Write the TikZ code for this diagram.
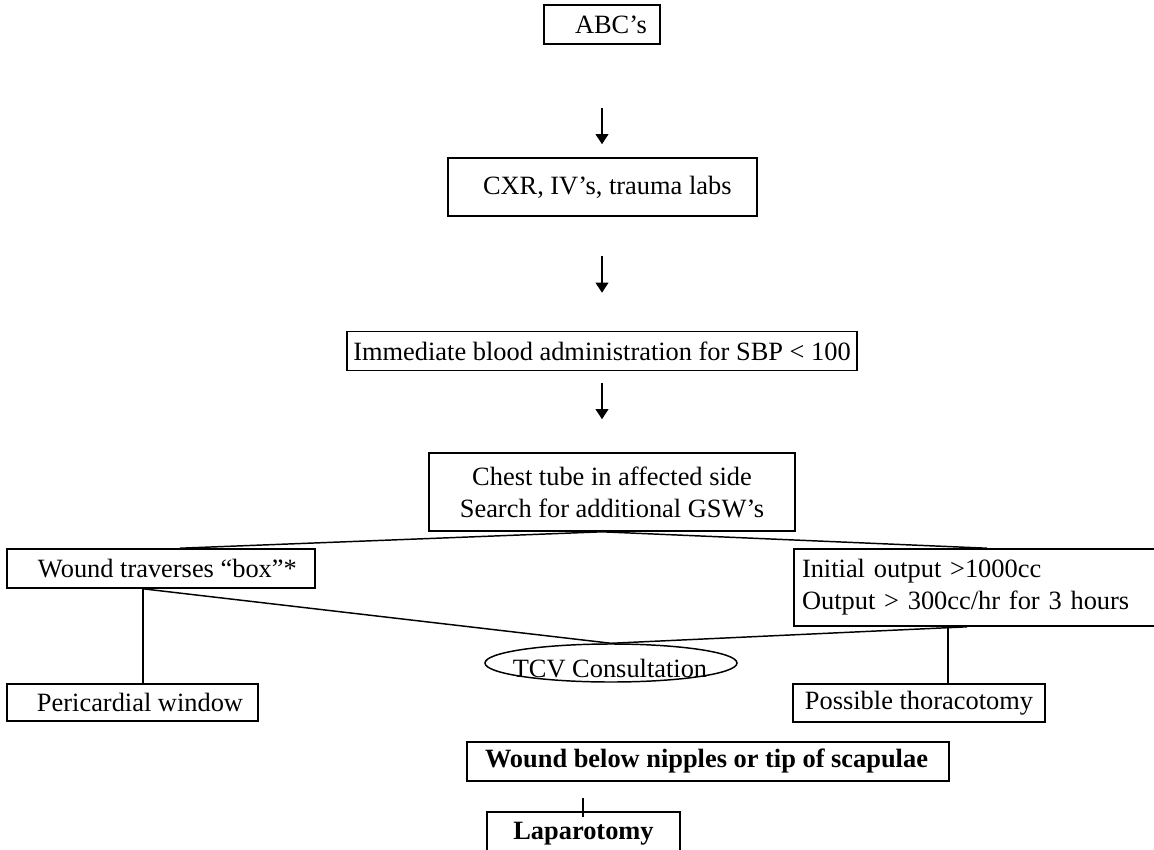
\documentclass[tikz,border=0pt]{standalone}
\usepackage{fontspec}
\setmainfont{Liberation Serif}
\usetikzlibrary{arrows.meta,shapes.geometric}

\begin{document}
\begin{tikzpicture}[x=0.75pt,y=0.75pt,yscale=-1,xscale=1,
  flowbox/.style={draw,line width=1.2pt,inner sep=0pt,font=\fontsize{19.8}{24}\selectfont},
  flowline/.style={line width=1.1pt},
  flowarrow/.style={line width=1.1pt,-{Triangle[length=7.5pt,width=9.5pt]}}]
\useasboundingbox (0,0) rectangle (1154,850);

% Text Node
\node[flowbox,minimum width=87pt,minimum height=29.25pt] (abc) at (602,24.5) {\makebox[87pt][l]{\hspace*{23.25pt}ABC’s}};
% Text Node
\node[flowbox,minimum width=231.75pt,minimum height=43.5pt] (cxr) at (602.5,187) {\makebox[231.75pt][l]{\hspace*{26.25pt}CXR, IV’s, trauma labs}};
% Text Node
\node[flowbox,minimum width=382.5pt,minimum height=29.25pt] (blood) at (602,351) {Immediate blood administration for SBP < 100};
% Text Node
\node[flowbox,align=center,minimum width=274.5pt,minimum height=58.5pt] (chest) at (612,492) {Chest tube in affected side\\Search for additional GSW’s};
% Text Node
\node[flowbox,minimum width=231pt,minimum height=29.25pt] (wound) at (161,568.5) {\makebox[231pt][l]{\hspace*{23.25pt}Wound traverses “box”*}};
% Text Node
\node[flowbox,align=left,text width=277.5pt,inner xsep=6pt,minimum height=57.75pt] (output) at (987,587.5) {Initial output >1000cc\\Output > 300cc/hr for 3 hours};
%Shape: Ellipse
\node[ellipse,draw,line width=1.1pt,minimum width=189pt,minimum height=28.5pt,inner sep=0pt] (tcv) at (611,663) {};
\node[font=\fontsize{19.8}{24}\selectfont,inner sep=0pt] (tcvtext) at (610,669) {TCV Consultation};
% Text Node
\node[flowbox,minimum width=188.25pt,minimum height=27.75pt] (peri) at (132.5,702.5) {\makebox[188.25pt][l]{\hspace*{22.5pt}Pericardial window}};
% Text Node
\node[flowbox,minimum width=189pt,minimum height=28.5pt] (thor) at (919,703) {Possible thoracotomy};
% Text Node
\node[flowbox,font=\fontsize{19.8}{24}\selectfont\bfseries,minimum width=361.5pt,minimum height=29.25pt] (nipples) at (708,761.5) {\makebox[361.5pt][l]{\hspace*{13.5pt}Wound below nipples or tip of scapulae}};
% Text Node
\node[flowbox,font=\fontsize{19.8}{24}\selectfont\bfseries,minimum width=144.75pt,minimum height=33pt] (lap) at (583.5,834) {Laparotomy};

%Straight Lines
\draw[flowarrow,shorten <=47.25pt,shorten >=9.75pt] (abc.south) -- (abc.south |- cxr.north);
\draw[flowarrow,shorten <=29.25pt,shorten >=28.5pt] (abc.south |- cxr.south) -- (abc.south |- blood.north);
\draw[flowarrow,shorten <=9pt,shorten >=24.75pt] (blood.south) -- (blood.south |- chest.north);

\coordinate (split) at (blood.south |- chest.south);
\draw[flowline] ([xshift=14.25pt]wound.north) -- (split) -- (output.north);

\coordinate (wfoot) at ([xshift=-13.5pt]wound.south);
\coordinate (ofoot) at ([xshift=-15pt]output.south);
\coordinate (tfoot) at ([xshift=-29.25pt]output.south);
\draw[flowline] (wfoot) -- (tcv.north) -- (ofoot);
\draw[flowline] (wfoot) -- (wfoot |- peri.north);
\draw[flowline] (tfoot) -- (tfoot |- thor.north);

\coordinate (tick) at (583,798);
\draw[flowline] (tick) -- (tick |- lap.north) -- ++(0,6);

\end{tikzpicture}
\end{document}
